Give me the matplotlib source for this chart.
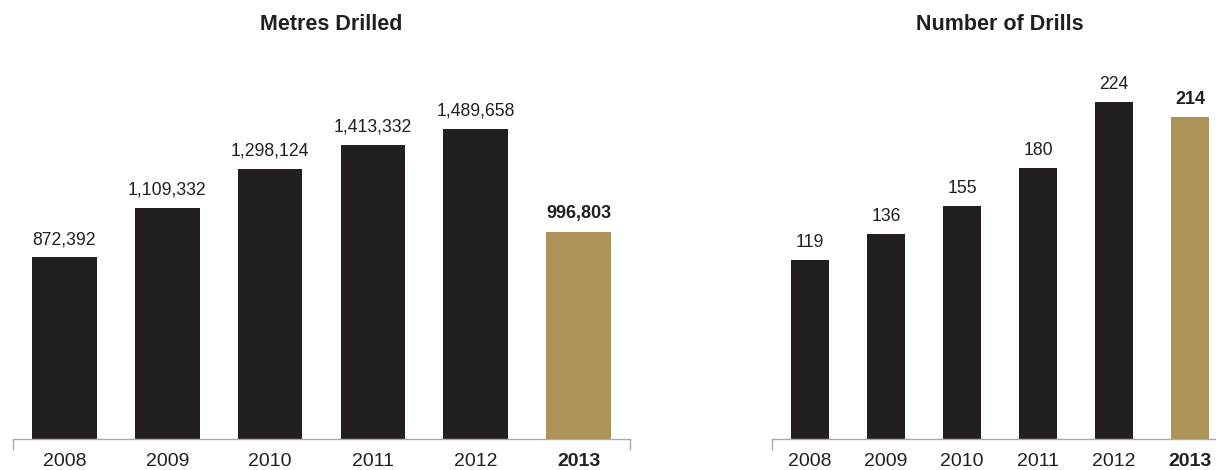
# -*- coding: utf-8 -*-
import matplotlib
matplotlib.use('Agg')
import matplotlib.pyplot as plt

plt.rcParams['font.family'] = ['Liberation Sans', 'DejaVu Sans']

# data
years = ['2008', '2009', '2010', '2011', '2012', '2013']
metres_drilled = [872392, 1109332, 1298124, 1413332, 1489658, 996803]
number_of_drills = [119, 136, 155, 180, 224, 214]

DARK = '#231f20'
GOLD = '#ad9357'
AXIS_GREY = '#a9a9a9'

W, H = 1216, 470
fig = plt.figure(figsize=(W / 100, H / 100), dpi=100)


def px_axes(x0, x1, y_base, height):
    """Axes placed in pixel coords (y measured from top)."""
    return fig.add_axes([x0 / W, (H - y_base) / H, (x1 - x0) / W, height / H])


def draw_panel(ax, values, ymax, width, fmt):
    n = len(values)
    xs = list(range(n))
    colors = [DARK] * (n - 1) + [GOLD]
    ax.bar(xs, values, width=width, color=colors, edgecolor='none')
    ax.set_xlim(-0.5, n - 0.5)
    ax.set_ylim(0, ymax)
    for x, v in zip(xs, values):
        last = x == n - 1
        ax.annotate(fmt(v), (x, v), xytext=(0, 9.5), textcoords='offset points',
                    ha='center', va='baseline', fontsize=12.7 if not last else 13,
                    fontweight='bold' if last else 'normal', color=DARK,
                    annotation_clip=False)
    ax.set_xticks(xs)
    ax.set_xticklabels(years, fontsize=14, color=DARK)
    ax.get_xticklabels()[-1].set_fontweight('bold')
    ax.tick_params(axis='x', which='major', length=0, pad=10)
    ax.set_xticks([-0.5, n - 0.5], minor=True)
    ax.tick_params(axis='x', which='minor', length=8, width=1, color=AXIS_GREY,
                   direction='out')
    ax.set_yticks([])
    for side in ['left', 'right', 'top']:
        ax.spines[side].set_visible(False)
    ax.spines['bottom'].set_color(AXIS_GREY)
    ax.spines['bottom'].set_linewidth(1)
    ax.patch.set_alpha(0)


panel_h = 400
ax1 = px_axes(13, 630, 439, panel_h)
draw_panel(ax1, metres_drilled, panel_h / 2.081e-4, 0.63, lambda v: f'{v:,}')

ax2 = px_axes(772, 1228, 439, panel_h)
draw_panel(ax2, number_of_drills, panel_h / 1.504, 0.5, lambda v: f'{v}')

fig.text(331 / W, 1 - 25 / H, 'Metres Drilled', ha='center', va='center',
         fontsize=15.5, fontweight='bold', color=DARK)
fig.text(1000 / W, 1 - 25 / H, 'Number of Drills', ha='center', va='center',
         fontsize=15.5, fontweight='bold', color=DARK)

fig.savefig('out.png', dpi=100)
